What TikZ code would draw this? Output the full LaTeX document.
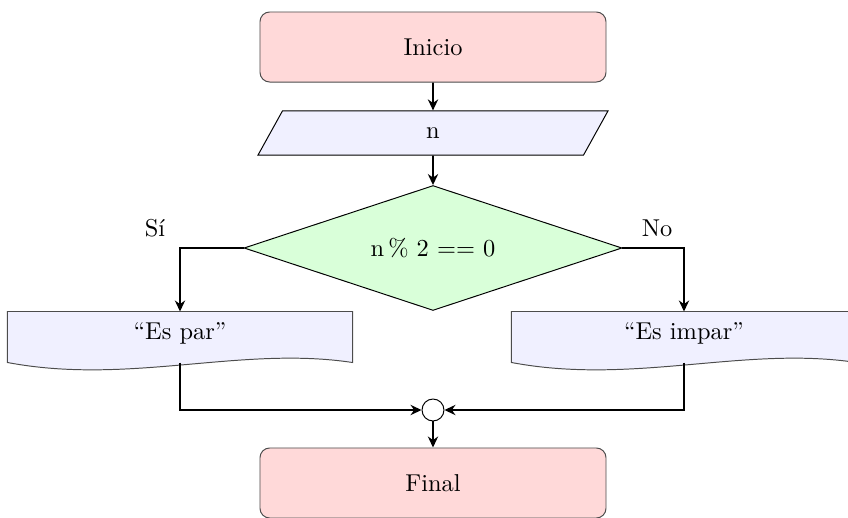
\documentclass[tikz,border=0pt]{standalone}
\usepackage{tikz}
\usetikzlibrary{positioning,arrows.meta,shapes.geometric,backgrounds}

\begin{document}
\begin{tikzpicture}[
  x=0.4098pt, y=-0.4098pt,
  term/.style={draw=black!70,rounded corners,fill=red!15,minimum width=141.8pt,minimum height=28.7pt},
  inout/.style={draw,trapezium,trapezium left angle=61,trapezium right angle=119,fill=blue!6,inner xsep=58.9pt,inner ysep=6.85pt},
  cond/.style={draw,diamond,aspect=3,fill=green!15,minimum width=154.9pt,minimum height=51.2pt,inner sep=0pt},
  doc/.style={minimum width=141pt,minimum height=20.5pt,text depth=5pt},
  docline/.style={draw=black!70,fill=blue!6},
  jn/.style={draw,circle,fill=white,minimum size=9pt,inner sep=0pt},
  arr/.style={thick,-{Stealth[length=4.5pt,width=4.2pt]}}]
\useasboundingbox (0,0) rectangle (848,517);
% main column
\node[term]  (ini)  at (433,47)  {Inicio};
\node[inout] (inp)  at (433,133) {n};
\node[cond]  (test) at (433,248) {n\,\% 2 == 0};
% branches
\node[doc] (par) at (180,337) {``Es par''};
\node[doc] (imp) at (684,337) {``Es impar''};
\node (si) at (155,228) {Sí};
\node (no) at (657,228) {No};
% join and end
\node[jn]   (join) at (433,410) {};
\node[term] (fin)  at (433,483) {Final};
% document outlines
\begin{scope}[on background layer]
\draw[docline] (par.north west) -- (par.north east) -- (par.south east)
  .. controls +(-112,-17) and +(122,23) .. (par.south west) -- cycle;
\draw[docline] (imp.north west) -- (imp.north east) -- (imp.south east)
  .. controls +(-112,-17) and +(122,23) .. (imp.south west) -- cycle;
\end{scope}
% flow
\draw[arr] (ini)--(inp); \draw[arr] (inp)--(test);
\draw[arr] (test.west) -| (par.north);
\draw[arr] (test.east) -| (imp.north);
\draw[arr] (par.south) |- (join.west);
\draw[arr] (imp.south) |- (join.east);
\draw[arr] (join)--(fin);
\end{tikzpicture}
\end{document}
